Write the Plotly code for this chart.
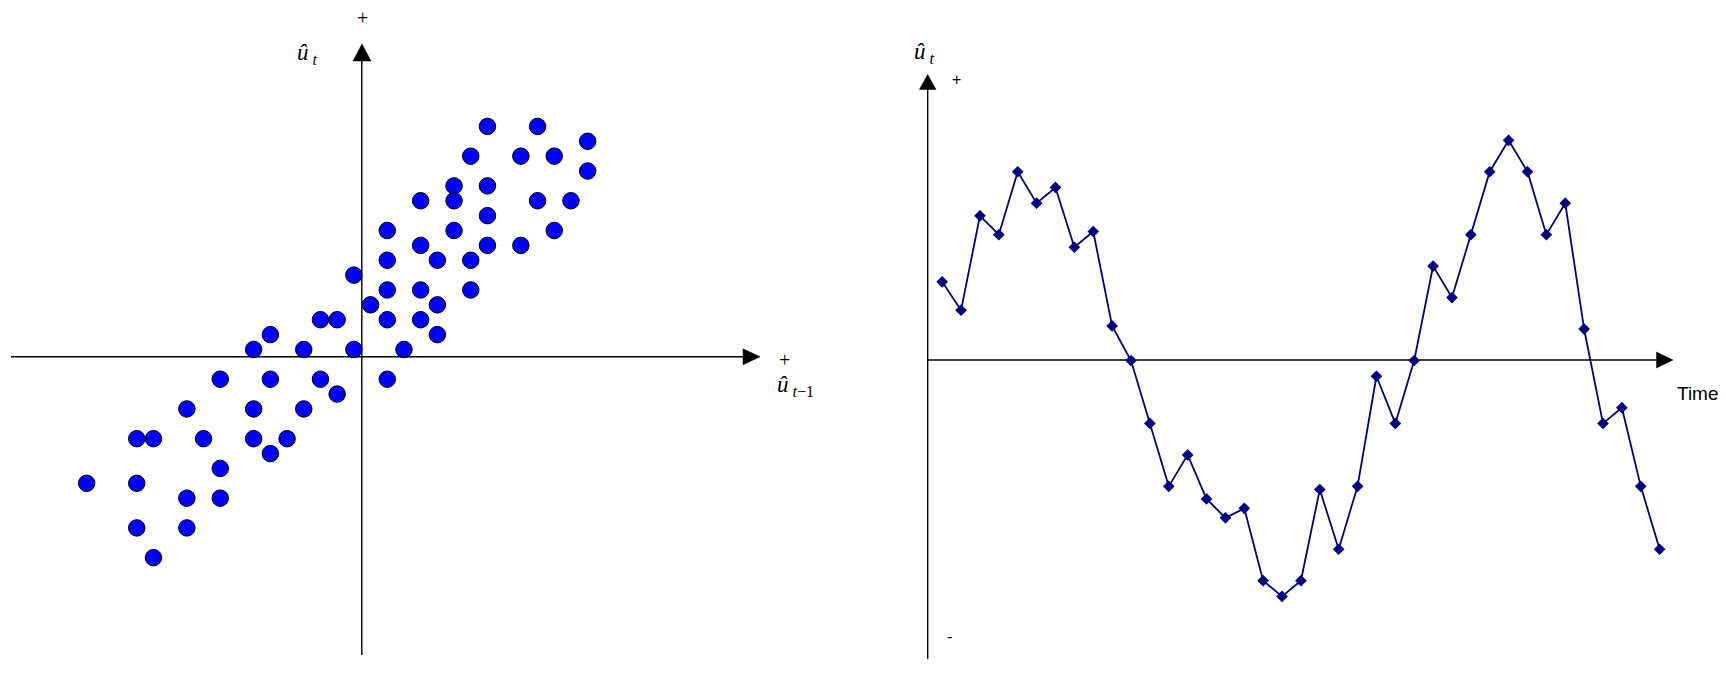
import plotly.graph_objects as go

# ---------------- data ----------------
# Left panel: lagged residuals (u_hat_{t-1}, u_hat_t), arbitrary units
lag_x = [7.5, 10.5,
         13.5,
         6.5, 9.5, 11.5,
         13.5,
         5.5, 7.5,
         3.5, 5.5, 10.5, 12.5,
         7.5,
         1.5, 5.5, 11.5,
         3.5, 7.5, 9.5,
         1.5, 4.5, 6.5,
         -0.5,
         1.5, 3.5, 6.5,
         0.5, 4.5,
         -2.5, -1.5, 1.5, 3.5,
         -5.5, 4.5,
         -6.5, -3.5, -0.5, 2.5,
         -8.5, -5.5, -2.5, 1.5,
         -1.5,
         -10.5, -6.5, -3.5,
         -13.5, -12.5, -9.5, -6.5, -4.5,
         -5.5,
         -8.5,
         -16.5, -13.5,
         -10.5, -8.5,
         -13.5, -10.5,
         -12.5]
lag_y = [15.5, 15.5,
         14.5,
         13.5, 13.5, 13.5,
         12.5,
         11.5, 11.5,
         10.5, 10.5, 10.5, 10.5,
         9.5,
         8.5, 8.5, 8.5,
         7.5, 7.5, 7.5,
         6.5, 6.5, 6.5,
         5.5,
         4.5, 4.5, 4.5,
         3.5, 3.5,
         2.5, 2.5, 2.5, 2.5,
         1.5, 1.5,
         0.5, 0.5, 0.5, 0.5,
         -1.5, -1.5, -1.5, -1.5,
         -2.5,
         -3.5, -3.5, -3.5,
         -5.5, -5.5, -5.5, -5.5, -5.5,
         -6.5,
         -7.5,
         -8.5, -8.5,
         -9.5, -9.5,
         -11.5, -11.5,
         -13.5]

# Right panel: residuals over time
time_idx = list(range(1, 40))
resid = [5, 3.2, 9.2, 8, 12, 10, 11, 7.2, 8.2, 2.2,
         0, -4, -8, -6, -8.8, -10, -9.4, -14, -15, -14,
         -8.2, -12, -8, -1, -4, 0, 6, 4, 8, 12,
         14, 12, 8, 10, 2, -4, -3, -8, -12]

# ---------------- layout geometry (pixels) ----------------
W, H = 1726, 675
def fx(p):
    return p / W
def fy(p):
    return 1 - p / H

SPLIT = 863
# left panel scale
L_XU, L_X0 = 16.7, 362.2
L_YU, L_Y0 = 14.87, 356.9
# right panel scale
R_XU, R_X1 = 18.88, 942.2
R_YU, R_Y0 = 15.73, 360.5

fig = go.Figure()

fig.add_trace(go.Scatter(
    x=lag_x, y=lag_y, mode="markers", xaxis="x", yaxis="y",
    marker=dict(size=16.5, color="#0000FF", line=dict(color="black", width=1)),
    hoverinfo="skip", showlegend=False))

fig.add_trace(go.Scatter(
    x=time_idx, y=resid, mode="lines+markers", xaxis="x2", yaxis="y2",
    line=dict(color="#000080", width=1.8),
    marker=dict(symbol="diamond", size=9, color="#000080"),
    hoverinfo="skip", showlegend=False))

hidden = dict(visible=False, showgrid=False, zeroline=False, fixedrange=True)
fig.update_layout(
    width=W, height=H,
    margin=dict(l=0, r=0, t=0, b=0),
    paper_bgcolor="white", plot_bgcolor="white",
    xaxis=dict(domain=[0, SPLIT / W],
               range=[(0 - L_X0) / L_XU, (SPLIT - L_X0) / L_XU], **hidden),
    yaxis=dict(domain=[0, 1],
               range=[-(H - L_Y0) / L_YU, L_Y0 / L_YU], **hidden),
    xaxis2=dict(domain=[SPLIT / W, 1], anchor="y2",
                range=[1 + (SPLIT - R_X1) / R_XU, 1 + (W - R_X1) / R_XU], **hidden),
    yaxis2=dict(domain=[0, 1], anchor="x2",
                range=[-(H - R_Y0) / R_YU, R_Y0 / R_YU], **hidden),
)

shapes = []
def line(x0, y0, x1, y1, w=1.4):
    shapes.append(dict(type="line", xref="paper", yref="paper",
                       x0=fx(x0), y0=fy(y0), x1=fx(x1), y1=fy(y1),
                       line=dict(color="black", width=w), layer="below"))
def tri(pts):
    path = "M " + " L ".join(f"{fx(a)},{fy(b)}" for a, b in pts) + " Z"
    shapes.append(dict(type="path", xref="paper", yref="paper", path=path,
                       fillcolor="black", line=dict(color="black", width=0.5)))

# left axes
line(11, 356.8, 745, 356.8)
line(361.8, 655, 361.8, 60)
tri([(743, 348.8), (760, 356.8), (743, 364.8)])
tri([(353, 61), (362, 44), (371, 61)])
# right axes
line(927.7, 360.0, 1658, 360.0)
line(927.7, 659, 927.7, 88)
tri([(1656.5, 352), (1673, 360), (1656.5, 368)])
tri([(919.4, 89.5), (927.7, 74.5), (936, 89.5)])

fig.update_layout(shapes=shapes)

serif = "Liberation Serif, Times New Roman, serif"
sans = "Liberation Sans, Arial, sans-serif"
ann = []
def text(t, x, y, size, family, xanchor="center", yanchor="middle"):
    ann.append(dict(text=t, x=fx(x), y=fy(y), xref="paper", yref="paper",
                    showarrow=False, xanchor=xanchor, yanchor=yanchor,
                    font=dict(size=size, family=family, color="black")))

# left panel labels
text("+", 362, 18, 20, serif)
text("-", 360, 662, 20, serif, yanchor="top")
text("+", 784, 360, 20, serif)
text("<i>û</i><sub> <i>t</i>−1</sub>", 775, 386, 23, serif, xanchor="left")
text("<i>û</i><sub> <i>t</i></sub>", 295, 54, 23, serif, xanchor="left")
# right panel labels
text("<i>û</i><sub> <i>t</i></sub>", 912, 53, 23, serif, xanchor="left")
text("+", 956, 79, 16, sans)
text("-", 950, 636, 16, sans)
text("Time", 1675, 393, 19, sans, xanchor="left")

fig.update_layout(annotations=ann)

fig.write_html("out.html", config={"displayModeBar": False},
               post_script="document.body.style.margin='0';document.body.style.overflow='hidden';")
